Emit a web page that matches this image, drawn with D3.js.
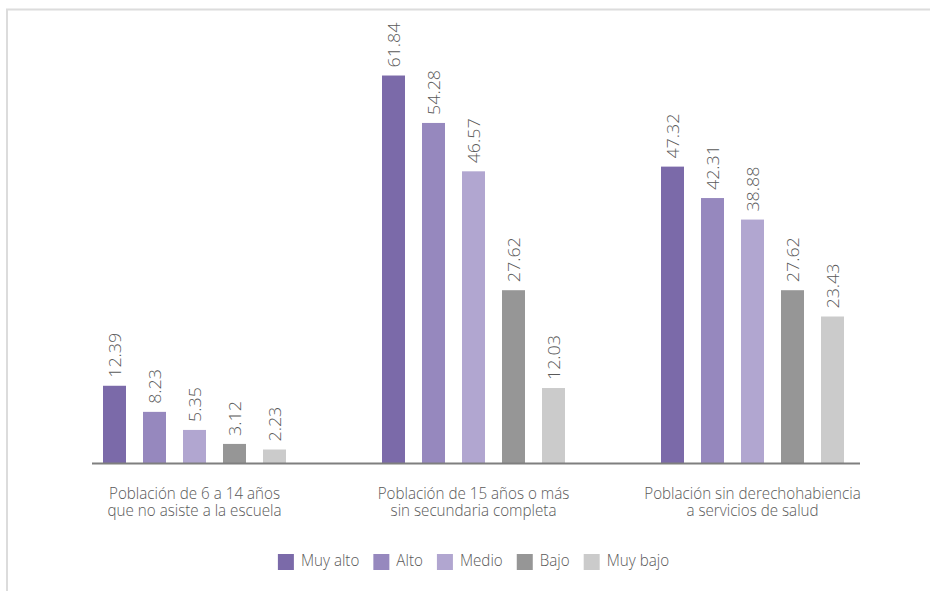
<!DOCTYPE html>
<html>
<head>
<meta charset="utf-8">
<script src="https://cdn.jsdelivr.net/npm/d3@7"></script>
<style>
  html, body { margin: 0; padding: 0; background: #fff; }
  svg { display: block; font-family: "Open Sans", "Liberation Sans", sans-serif; font-weight: 300; }
</style>
</head>
<body>
<svg id="chart" width="930" height="591"></svg>
<script>
// Indicator groups (two-line labels) and marginación levels
const categories = [
  ["Población de 6 a 14 años", "que no asiste a la escuela"],
  ["Población de 15 años o más", "sin secundaria completa"],
  ["Población sin derechohabiencia", "a servicios de salud"]
];
const series = ["Muy alto", "Alto", "Medio", "Bajo", "Muy bajo"];
const muyAlto = [12.39, 61.84, 47.32];
const alto    = [8.23, 54.28, 42.31];
const medio   = [5.35, 46.57, 38.88];
const bajo    = [3.12, 27.62, 27.62];
const muyBajo = [2.23, 12.03, 23.43];
const seriesValues = [muyAlto, alto, medio, bajo, muyBajo];
const colors = ["#7b6aa9", "#9688be", "#b1a6d0", "#969696", "#cbcbcb"];

const svg = d3.select("#chart");
const textColor = "#595959";
const narrow = 0.95; // horizontal squeeze giving a condensed face

// light frame along the top and left
svg.append("path")
  .attr("d", "M7,591 V9.5 H930")
  .attr("fill", "none")
  .attr("stroke", "#dcdcdc")
  .attr("stroke-width", 2);

const baseY = 463.5;
const y = d3.scaleLinear().domain([0, 70]).range([baseY, baseY - 70 * 6.274]);

const catIdx = d3.range(categories.length);
const x0 = d3.scaleBand().domain(catIdx).range([55, 892]);
const x1 = d3.scaleBand().domain(series).range([0, 200])
  .paddingInner(0.425).paddingOuter(0.2125);

const groups = svg.append("g").selectAll("g")
  .data(catIdx)
  .join("g")
  .attr("transform", i => `translate(${x0(i) + x0.bandwidth() / 2 - 100},0)`);

const bars = groups.selectAll("g")
  .data(i => series.map((s, k) => ({ s, k, v: seriesValues[k][i] })))
  .join("g");

bars.append("rect")
  .attr("x", d => x1(d.s))
  .attr("width", x1.bandwidth())
  .attr("y", d => y(d.v))
  .attr("height", d => y(0) - y(d.v))
  .attr("fill", d => colors[d.k]);

bars.append("text")
  .attr("transform", d => `translate(${x1(d.s) + x1.bandwidth() / 2 + 1},${y(d.v) - 8}) rotate(-90) scale(1.05,1)`)
  .attr("dy", "0.35em")
  .attr("font-size", 17)
  .attr("fill", textColor)
  .text(d => d.v.toFixed(2));

// category axis line
svg.append("line")
  .attr("x1", 92).attr("x2", 860)
  .attr("y1", baseY).attr("y2", baseY)
  .attr("stroke", "#7f7f7f")
  .attr("stroke-width", 2);

// category labels
const labels = svg.append("g").selectAll("text")
  .data(catIdx)
  .join("text")
  .attr("text-anchor", "middle")
  .attr("font-size", 16)
  .attr("fill", textColor)
  .attr("transform", i => `translate(${x0(i) + x0.bandwidth() / 2},0) scale(${narrow},1)`);
labels.selectAll("tspan")
  .data(i => categories[i])
  .join("tspan")
  .attr("x", 0)
  .attr("y", (d, j) => 499 + j * 17)
  .text(d => d);

// legend
const legend = svg.append("g");
const items = legend.selectAll("g")
  .data(series)
  .join("g");
items.append("rect")
  .attr("width", 16).attr("height", 16)
  .attr("y", 554)
  .attr("fill", (d, k) => colors[k]);
items.append("text")
  .attr("transform", `translate(23,566) scale(${narrow},1)`)
  .attr("font-size", 16)
  .attr("fill", textColor)
  .text(d => d);
let cx = 0;
const offsets = [];
items.each(function() {
  offsets.push(cx);
  const w = d3.select(this).select("text").node().getComputedTextLength() * narrow;
  cx += 23 + w + 14;
});
const totalW = cx - 14;
const startX = 473.5 - totalW / 2;
items.attr("transform", (d, k) => `translate(${startX + offsets[k]},0)`);
</script>
</body>
</html>
